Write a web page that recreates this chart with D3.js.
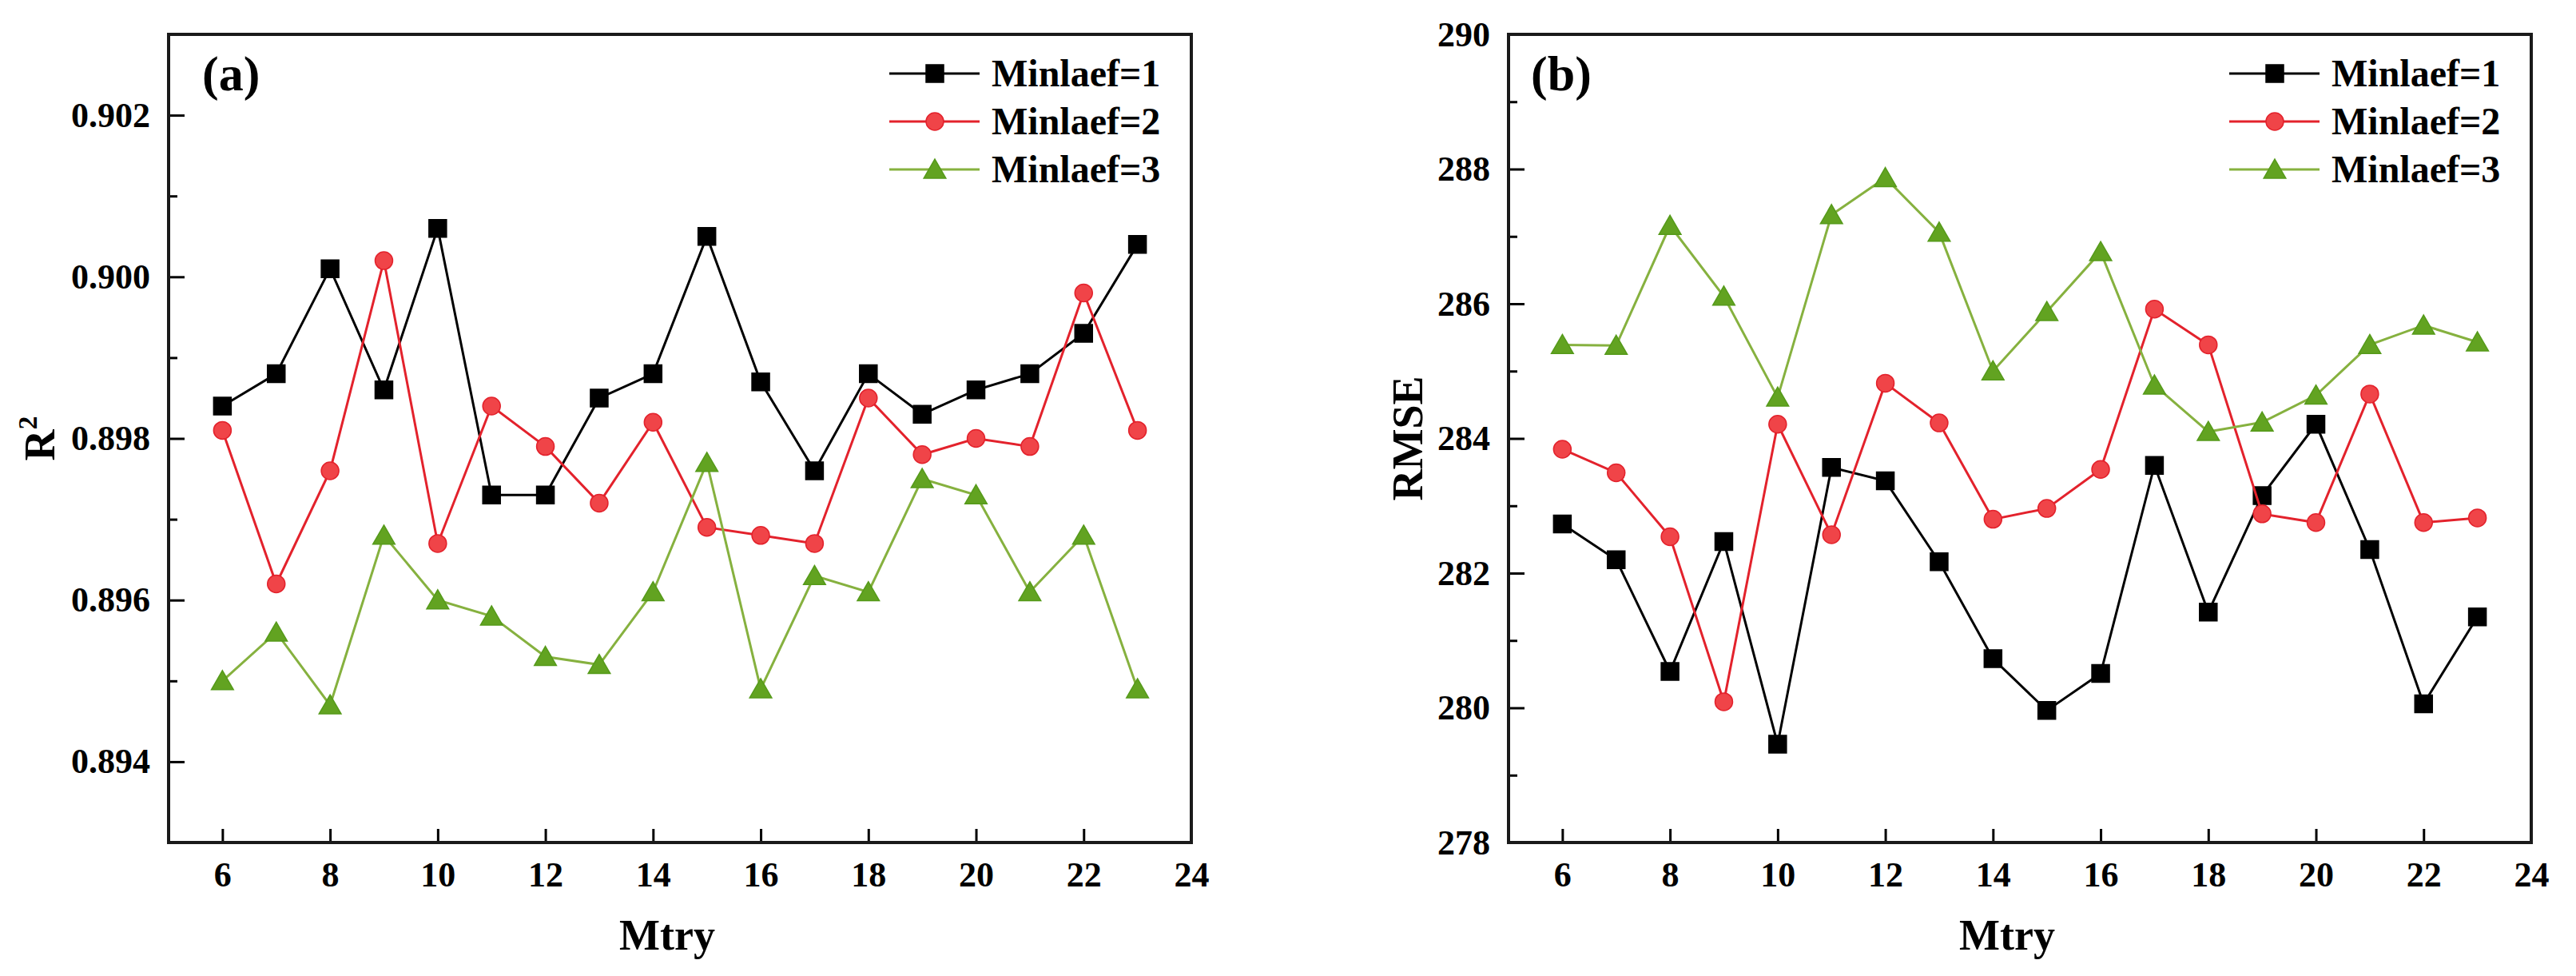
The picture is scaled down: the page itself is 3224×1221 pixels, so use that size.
<!DOCTYPE html>
<html>
<head>
<meta charset="utf-8">
<script src="https://cdn.jsdelivr.net/npm/d3@7"></script>
<style>
  body { margin: 0; background: #fff; }
  svg text { font-family: "Liberation Serif", "Times New Roman", serif; font-weight: bold; fill: #000; }
</style>
</head>
<body>
<script>
// x values
const mtry = [6, 7, 8, 9, 10, 11, 12, 13, 14, 15, 16, 17, 18, 19, 20, 21, 22, 23];
const xTicks = [6, 8, 10, 12, 14, 16, 18, 20, 22, 24];

// panel (a) R^2
const r2Leaf1 = [0.8984, 0.8988, 0.9001, 0.8986, 0.9006, 0.8973, 0.8973, 0.8985, 0.8988,
                 0.9005, 0.8987, 0.8976, 0.8988, 0.8983, 0.8986, 0.8988, 0.8993, 0.9004];
const r2Leaf2 = [0.8981, 0.8962, 0.8976, 0.9002, 0.8967, 0.8984, 0.8979, 0.8972, 0.8982,
                 0.8969, 0.8968, 0.8967, 0.8985, 0.8978, 0.8980, 0.8979, 0.8998, 0.8981];
const r2Leaf3 = [0.8950, 0.8956, 0.8947, 0.8968, 0.8960, 0.8958, 0.8953, 0.8952, 0.8961,
                 0.8977, 0.8949, 0.8963, 0.8961, 0.8975, 0.8973, 0.8961, 0.8968, 0.8949];
const r2Ticks = [0.894, 0.896, 0.898, 0.900, 0.902];
const r2Minor = [0.893, 0.895, 0.897, 0.899, 0.901, 0.903];

// panel (b) RMSE
const rmseLeaf1 = [282.73, 282.20, 280.54, 282.47, 279.46, 283.57, 283.37, 282.17, 280.73,
                   279.96, 280.51, 283.60, 281.42, 283.15, 284.21, 282.35, 280.06, 281.35];
const rmseLeaf2 = [283.84, 283.49, 282.54, 280.09, 284.21, 282.57, 284.82, 284.23, 282.80,
                   282.96, 283.54, 285.92, 285.39, 282.88, 282.75, 284.66, 282.75, 282.82];
const rmseLeaf3 = [285.39, 285.38, 287.16, 286.11, 284.61, 287.32, 287.87, 287.06, 285.00,
                   285.88, 286.77, 284.79, 284.10, 284.24, 284.64, 285.39, 285.68, 285.43];
const rmseTicks = [278, 280, 282, 284, 286, 288, 290];
const rmseMinor = [279, 281, 283, 285, 287, 289];

const seriesNames = ["Minlaef=1", "Minlaef=2", "Minlaef=3"];

const styles = [
  {line: "#000000", fill: "#000000", stroke: "#000000", shape: d3.symbolSquare, size: 484},
  {line: "#e3222c", fill: "#f04448", stroke: "#e3222c", shape: d3.symbolCircle, size: 380},
  {line: "#86b13f", fill: "#62a321", stroke: "#559a1a", shape: d3.symbolTriangle, size: 330}
];

const W = 3224, H = 1221;
const plotTop = 43, plotBottom = 1054;

const svg = d3.select("body").append("svg")
  .attr("width", W)
  .attr("height", H);

function drawPanel(p) {
  const x = d3.scaleLinear().domain([5, 24]).range([p.left, p.left + 1280]);
  const y = d3.scaleLinear().domain(p.yDomain).range([plotBottom, plotTop]);
  const g = svg.append("g");

  // x axis (ticks inside)
  const xa = g.append("g")
    .attr("transform", `translate(0,${plotBottom})`)
    .call(d3.axisBottom(x).tickValues(xTicks).tickSizeInner(-17).tickSizeOuter(0).tickPadding(24));
  xa.select(".domain").remove();
  xa.selectAll("line").attr("stroke-width", 3);
  xa.selectAll("text").attr("font-size", 44);

  // y axis
  const ya = g.append("g")
    .attr("transform", `translate(${p.left},0)`)
    .call(d3.axisLeft(y).tickValues(p.yTicks).tickFormat(p.fmt).tickSizeInner(-20).tickSizeOuter(0).tickPadding(23));
  ya.select(".domain").remove();
  ya.selectAll("line").attr("stroke-width", 3);
  ya.selectAll("text").attr("font-size", 44);

  const ym = g.append("g")
    .attr("transform", `translate(${p.left},0)`)
    .call(d3.axisLeft(y).tickValues(p.yMinor).tickFormat("").tickSizeInner(-11).tickSizeOuter(0));
  ym.select(".domain").remove();
  ym.selectAll("line").attr("stroke-width", 3);

  // frame
  g.append("rect")
    .attr("x", x(5)).attr("y", plotTop)
    .attr("width", x(24) - x(5)).attr("height", plotBottom - plotTop)
    .attr("fill", "none").attr("stroke", "#1a1a1a").attr("stroke-width", 4);

  // series
  const line = d3.line().x((d, i) => x(mtry[i])).y(d => y(d));
  p.series.forEach((vals, k) => {
    const st = styles[k];
    g.append("path").datum(vals)
      .attr("d", line)
      .attr("fill", "none")
      .attr("stroke", st.line)
      .attr("stroke-width", 3);
    g.selectAll(null).data(vals).enter().append("path")
      .attr("transform", (d, i) => `translate(${x(mtry[i])},${y(d) + (k === 2 ? 3 : 0)})`)
      .attr("d", d3.symbol().type(st.shape).size(st.size))
      .attr("fill", st.fill)
      .attr("stroke", st.stroke)
      .attr("stroke-width", 1.5);
  });

  // legend
  const lx = x(24) - 378;
  seriesNames.forEach((name, k) => {
    const st = styles[k];
    const ly = 92 + k * 60;
    g.append("line")
      .attr("x1", lx).attr("x2", lx + 113)
      .attr("y1", ly).attr("y2", ly)
      .attr("stroke", st.line).attr("stroke-width", 3);
    g.append("path")
      .attr("transform", `translate(${lx + 57},${ly + (k === 2 ? 3 : 0)})`)
      .attr("d", d3.symbol().type(st.shape).size(st.size))
      .attr("fill", st.fill).attr("stroke", st.stroke).attr("stroke-width", 1.5);
    g.append("text")
      .attr("x", lx + 128).attr("y", ly + 16)
      .attr("font-size", 48)
      .text(name);
  });

  // panel label
  g.append("text")
    .attr("x", p.left + p.labelDx).attr("y", 113)
    .attr("font-size", 62)
    .text(p.label);

  // axis titles
  g.append("text")
    .attr("x", (x(5) + x(24)) / 2 - 16).attr("y", 1188)
    .attr("text-anchor", "middle")
    .attr("font-size", 54)
    .text("Mtry");

  const yt = g.append("text")
    .attr("transform", `translate(${p.left - p.titleDx},${(plotTop + plotBottom) / 2}) rotate(-90)`)
    .attr("text-anchor", "middle")
    .attr("font-size", 54);
  yt.append("tspan").text(p.yTitle);
  if (p.sup) {
    yt.append("tspan").attr("dy", -22).attr("font-size", 34).text(p.sup);
  }
}

drawPanel({
  left: 211,
  yDomain: [0.893, 0.903],
  yTicks: r2Ticks,
  yMinor: r2Minor,
  fmt: d3.format(".3f"),
  series: [r2Leaf1, r2Leaf2, r2Leaf3],
  label: "(a)",
  labelDx: 42,
  yTitle: "R",
  sup: "2",
  titleDx: 143
});

drawPanel({
  left: 1888,
  yDomain: [278, 290],
  yTicks: rmseTicks,
  yMinor: rmseMinor,
  fmt: d3.format("d"),
  series: [rmseLeaf1, rmseLeaf2, rmseLeaf3],
  label: "(b)",
  labelDx: 28,
  yTitle: "RMSE",
  sup: null,
  titleDx: 108
});
</script>
</body>
</html>
